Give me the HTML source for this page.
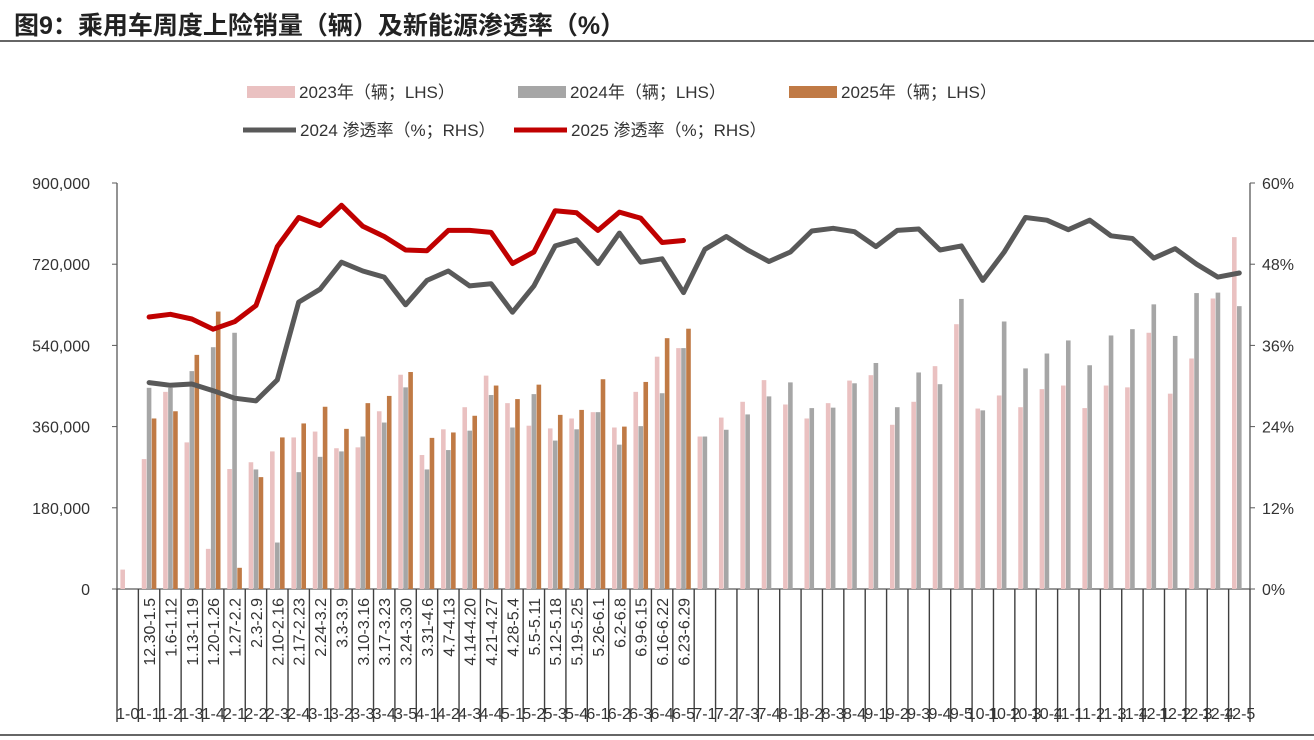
<!DOCTYPE html>
<html><head><meta charset="utf-8"><style>
body{margin:0;background:#fff}
svg{display:block;font-family:"Liberation Sans","Noto Sans CJK SC",sans-serif}
</style></head><body>
<svg id="chart" width="1314" height="740" viewBox="0 0 1314 740" xmlns="http://www.w3.org/2000/svg">
<text x="14" y="34" font-size="25" font-weight="bold" fill="#222">图9：乘用车周度上险销量（辆）及新能源渗透率（%）</text>
<line x1="0" y1="41" x2="1314" y2="41" stroke="#333" stroke-width="1.5"/>
<line x1="0" y1="735" x2="1314" y2="735" stroke="#333" stroke-width="1.5"/>
<g font-size="17" fill="#333">
<rect x="247" y="86" width="48" height="12" fill="#eac1c1"/>
<text x="299" y="98">2023年（辆；LHS）</text>
<rect x="518" y="86" width="48" height="12" fill="#a6a6a6"/>
<text x="570" y="98">2024年（辆；LHS）</text>
<rect x="789" y="86" width="48" height="12" fill="#c07a45"/>
<text x="841" y="98">2025年（辆；LHS）</text>
<line x1="243" y1="130" x2="296" y2="130" stroke="#595959" stroke-width="5"/>
<text x="300" y="136">2024 渗透率（%；RHS）</text>
<line x1="514" y1="130" x2="567" y2="130" stroke="#c00000" stroke-width="5"/>
<text x="571" y="136">2025 渗透率（%；RHS）</text>
</g>
<g id="axes"></g><g id="bars"></g><g id="lines"></g><g id="xlabels"></g>
</svg>
<script>
const weekLabels=[];
const monthWeeks=[[1,[0,1,2,3,4]],[2,[1,2,3,4]],[3,[1,2,3,4,5]],[4,[1,2,3,4]],[5,[1,2,3,4]],[6,[1,2,3,4,5]],[7,[1,2,3,4]],[8,[1,2,3,4]],[9,[1,2,3,4,5]],[10,[1,2,3,4]],[11,[1,2,3,4]],[12,[1,2,3,4,5]]];
monthWeeks.forEach(m=>m[1].forEach(w=>weekLabels.push(m[0]+'-'+w)));
const dateLabels=["","12.30-1.5","1.6-1.12","1.13-1.19","1.20-1.26","1.27-2.2","2.3-2.9","2.10-2.16","2.17-2.23","2.24-3.2","3.3-3.9","3.10-3.16","3.17-3.23","3.24-3.30","3.31-4.6","4.7-4.13","4.14-4.20","4.21-4.27","4.28-5.4","5.5-5.11","5.12-5.18","5.19-5.25","5.26-6.1","6.2-6.8","6.9-6.15","6.16-6.22","6.23-6.29"];
const sales2023=[43000,288000,437000,325000,89000,266000,281000,305000,336000,349000,312000,314000,394000,475000,297000,354000,403000,473000,412000,362000,356000,378000,392000,358000,437000,515000,534000,338000,380000,415000,463000,409000,378000,412000,462000,474000,364000,415000,494000,587000,400000,429000,403000,443000,451000,401000,451000,447000,568000,433000,511000,644000,780000];
const sales2024=[0,446000,446000,483000,536000,568000,265000,103000,259000,293000,305000,338000,369000,447000,265000,308000,351000,430000,358000,432000,329000,354000,392000,320000,361000,434000,534000,338000,353000,387000,427000,458000,401000,402000,456000,501000,403000,480000,454000,643000,396000,593000,489000,522000,551000,496000,562000,576000,631000,561000,656000,657000,627000];
const sales2025=[0,378000,394000,519000,615000,47000,248000,336000,367000,404000,355000,412000,428000,481000,335000,347000,384000,451000,421000,453000,386000,397000,465000,360000,459000,556000,577000];
const pen2024=[null,30.5,30.1,30.3,29.3,28.2,27.8,30.9,42.4,44.3,48.3,47.0,46.1,42.0,45.6,47.0,44.8,45.1,40.9,44.8,50.7,51.6,48.1,52.6,48.3,48.8,43.8,50.2,52.1,50.1,48.4,49.8,52.9,53.3,52.8,50.6,53.0,53.2,50.1,50.7,45.6,49.8,54.9,54.5,53.1,54.5,52.2,51.8,48.9,50.3,48.0,46.1,46.7];
const pen2025=[null,40.2,40.6,39.9,38.4,39.5,41.9,50.6,54.9,53.7,56.7,53.6,52.1,50.1,50.0,53.0,53.0,52.7,48.1,49.8,55.9,55.6,53.0,55.7,54.8,51.2,51.5];
const leftTicks=[0,180000,360000,540000,720000,900000];
const rightTicks=[0,12,24,36,48,60];

const NS="http://www.w3.org/2000/svg";
const X0=117,X1=1250,Y0=589,YT=183,N=weekLabels.length,BW=(X1-X0)/N;
const yL=v=>Y0-v/900000*(Y0-YT);
const yR=p=>Y0-p/60*(Y0-YT);
const xc=i=>X0+BW*(i+0.5);
function mk(parent,tag,attrs){const e=document.createElementNS(NS,tag);for(const k in attrs)e.setAttribute(k,attrs[k]);document.getElementById(parent).appendChild(e);return e;}
const fmt=v=>v.toLocaleString('en-US');
let e=mk('axes','line',{x1:X0,y1:YT,x2:X0,y2:Y0,stroke:'#595959','stroke-width':1.3});


e=mk('axes','line',{x1:X1,y1:YT,x2:X1,y2:Y0,stroke:'#595959','stroke-width':1.3});


e=mk('axes','line',{x1:X0,y1:Y0,x2:X1,y2:Y0,stroke:'#595959','stroke-width':1.3});


leftTicks.forEach(v=>{
  let t=mk('axes','line',{x1:X0-5,y1:yL(v),x2:X0,y2:yL(v),stroke:'#595959'});
  
  
  let l=mk('axes','text',{x:X0-27,y:yL(v)+6,'text-anchor':'end','font-size':16,fill:'#333'});
  l.textContent=fmt(v);
  
  
});
rightTicks.forEach(p=>{
  let t=mk('axes','line',{x1:X1,y1:yR(p),x2:X1+5,y2:yR(p),stroke:'#595959'});
  
  
  let l=mk('axes','text',{x:X1+12,y:yR(p)+6,'font-size':16,fill:'#333'});
  l.textContent=p+'%';
  
  
});
for(let i=0;i<=N;i++){
  let t=mk('axes','line',{x1:X0+BW*i,y1:Y0,x2:X0+BW*i,y2:722,stroke:'#404040','stroke-width':1.4});
  
  
}
const W=4.6;
function bar(v,i,off,fill,name){
  if(!v)return;
  let r=mk('bars','rect',{x:xc(i)+off-W/2,y:yL(v),width:W,height:Y0-yL(v),fill:fill});
  
  
}
for(let i=0;i<N;i++){
  bar(sales2023[i],i,-5,'#eac1c1','bar-2023');
  bar(sales2024[i],i,0,'#a6a6a6','bar-2024');
  if(i<sales2025.length)bar(sales2025[i],i,5,'#c07a45','bar-2025');
}
function line(arr,color,name){
  const pts=[];arr.forEach((p,i)=>{if(p!=null)pts.push(xc(i).toFixed(1)+','+yR(p).toFixed(1));});
  let l=mk('lines','polyline',{points:pts.join(' '),fill:'none',stroke:color,'stroke-width':5,'stroke-linejoin':'round','stroke-linecap':'round'});
  
  
}
line(pen2024,'#595959','line-2024-penetration');
line(pen2025,'#c00000','line-2025-penetration');
dateLabels.forEach((s,i)=>{
  if(!s)return;
  let t=mk('xlabels','text',{x:0,y:0,'text-anchor':'end','font-size':16,fill:'#333',transform:`translate(${(xc(i)+6).toFixed(1)},598) rotate(-90)`});
  t.textContent=s;
  
  
});
weekLabels.forEach((s,i)=>{
  let t=mk('xlabels','text',{x:xc(i),y:719,'text-anchor':'middle','font-size':16,fill:'#333'});
  t.textContent=s;
  
  
});
</script>
</body></html>
